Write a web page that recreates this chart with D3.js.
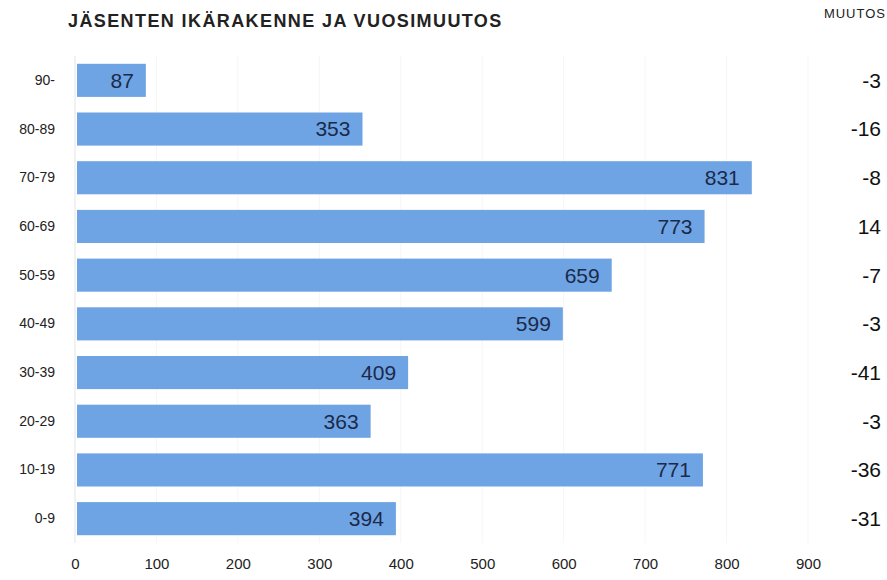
<!DOCTYPE html>
<html>
<head>
<meta charset="utf-8">
<script src="https://cdn.jsdelivr.net/npm/d3@7"></script>
<style>
  body { margin: 0; background: #fff; }
  svg { display: block; font-family: "Liberation Sans", Arial, sans-serif; }
</style>
</head>
<body>
<svg id="chart" width="887" height="580"></svg>
<script>
// age groups, top to bottom
const ageGroups = ["90-", "80-89", "70-79", "60-69", "50-59", "40-49", "30-39", "20-29", "10-19", "0-9"];
const members = [87, 353, 831, 773, 659, 599, 409, 363, 771, 394];
const yearChange = [-3, -16, -8, 14, -7, -3, -41, -3, -36, -31];
const xTicks = [0, 100, 200, 300, 400, 500, 600, 700, 800, 900];

const svg = d3.select("#chart");
const width = 887, height = 580;
const margin = { top: 56, left: 75, right: 79, bottom: 37 };

const x = d3.scaleLinear()
    .domain([0, 900])
    .range([margin.left, width - margin.right]);

const y = d3.scaleBand()
    .domain(ageGroups)
    .range([margin.top, height - margin.bottom])
    .paddingInner(0.32)
    .paddingOuter(0.16);

// faint grid
svg.append("g")
    .selectAll("line")
    .data(xTicks)
    .join("line")
    .attr("x1", d => x(d)).attr("x2", d => x(d))
    .attr("y1", margin.top).attr("y2", y.range()[1])
    .attr("stroke", d => d === 0 ? "#e4e4e4" : "#f6f6f6")
    .attr("stroke-width", 1);

const rows = svg.append("g")
    .selectAll("g")
    .data(ageGroups.map((g, i) => ({ group: g, value: members[i], change: yearChange[i] })))
    .join("g");

rows.append("rect")
    .attr("x", x(0) + 2)
    .attr("y", d => y(d.group))
    .attr("width", d => x(d.value) - x(0) - 2)
    .attr("height", y.bandwidth())
    .attr("fill", "#6fa4e4");

rows.append("text")
    .attr("x", d => x(d.value) - 12)
    .attr("y", d => y(d.group) + y.bandwidth() / 2)
    .attr("dy", "0.35em")
    .attr("text-anchor", "end")
    .attr("font-size", 21)
    .attr("fill", "#1b2a4a")
    .text(d => d.value);

// y axis labels
svg.append("g")
    .attr("transform", `translate(${x(0) - 20},0)`)
    .call(d3.axisLeft(y).tickSize(0).tickPadding(0))
    .call(g => g.select(".domain").remove())
    .call(g => g.selectAll("text")
        .attr("font-size", 14)
        .attr("fill", "#222")
        .attr("font-family", "inherit"));

// change column
rows.append("text")
    .attr("x", 881)
    .attr("y", d => y(d.group) + y.bandwidth() / 2)
    .attr("dy", "0.35em")
    .attr("text-anchor", "end")
    .attr("font-size", 21)
    .attr("fill", "#111")
    .text(d => d.change);

// x axis
svg.append("g")
    .attr("transform", `translate(0,${height - 22})`)
    .call(d3.axisBottom(x).tickValues(xTicks).tickSize(0).tickPadding(0))
    .call(g => g.select(".domain").remove())
    .call(g => g.selectAll("text")
        .attr("font-size", 15)
        .attr("fill", "#222")
        .attr("font-family", "inherit"));

svg.append("text")
    .attr("x", 68)
    .attr("y", 27)
    .attr("font-size", 18)
    .attr("font-weight", "bold")
    .attr("letter-spacing", 1.4)
    .attr("fill", "#222")
    .text("JÄSENTEN IKÄRAKENNE JA VUOSIMUUTOS");

svg.append("text")
    .attr("x", 886)
    .attr("y", 18)
    .attr("text-anchor", "end")
    .attr("font-size", 13)
    .attr("letter-spacing", 1)
    .attr("fill", "#222")
    .text("MUUTOS");
</script>
</body>
</html>
